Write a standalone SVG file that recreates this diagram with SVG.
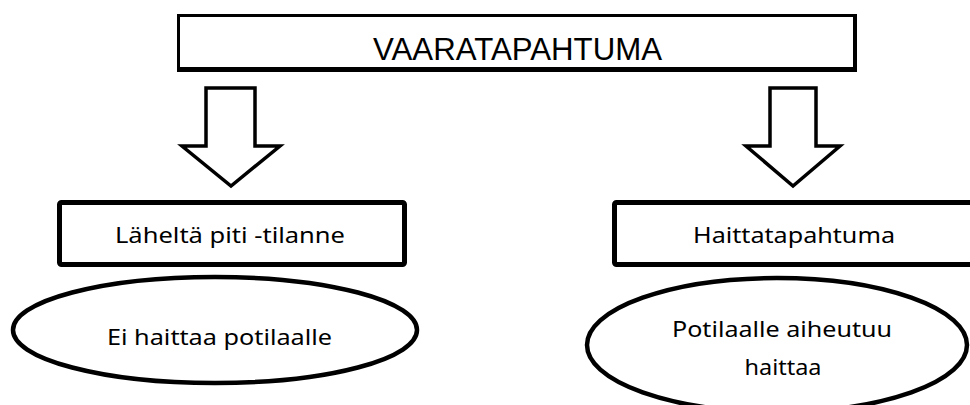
<svg xmlns="http://www.w3.org/2000/svg" width="970" height="405" viewBox="0 0 970 405">
<style>
.box{fill:#fff;stroke:#000;stroke-width:5}
.outer{fill:#000}
.inner{fill:#fff}
.arrow{fill:#fff;stroke:#000;stroke-width:3.5;stroke-linejoin:miter}
.ell{fill:#fff;stroke:#000;stroke-width:4.5}
.t1{font-family:"Liberation Sans",Arial,sans-serif;font-size:32px;fill:#000;text-anchor:middle}
.t2{font-family:"Noto Sans","Open Sans",sans-serif;font-size:22px;fill:#000;text-anchor:middle}
</style>
<rect width="970" height="405" fill="#fff"/>
<g id="vaaratapahtuma">
<rect class="outer" x="177" y="14" width="680" height="58"/>
<rect class="inner" x="180" y="17" width="673" height="50"/>
<text class="t1" x="517.5" y="60" textLength="289" lengthAdjust="spacingAndGlyphs">VAARATAPAHTUMA</text>
</g>
<g id="connectors">
<polygon class="arrow" points="206,88 255,88 255,146 280,146 231,186 182,146 206,146"/>
<polygon class="arrow" points="770,88 816,88 816,146 840,146 793,186 746,146 770,146"/>
</g>
<g id="laheltapiti">
<rect class="box" x="59.5" y="202.5" width="345" height="62" rx="2"/>
<text class="t2" x="230" y="243" textLength="230" lengthAdjust="spacingAndGlyphs">Läheltä piti -tilanne</text>
</g>
<g id="haittatapahtuma">
<rect class="box" x="614.5" y="202.5" width="365" height="62" rx="2"/>
<text class="t2" x="794" y="243" textLength="202" lengthAdjust="spacingAndGlyphs">Haittatapahtuma</text>
</g>
<g id="eihaittaa">
<ellipse class="ell" cx="215" cy="330" rx="202" ry="53"/>
<text class="t2" x="219.5" y="345" textLength="225" lengthAdjust="spacingAndGlyphs">Ei haittaa potilaalle</text>
</g>
<g id="potilaalle">
<ellipse class="ell" cx="777" cy="345" rx="190" ry="67"/>
<text class="t2" x="782" y="337" textLength="220" lengthAdjust="spacingAndGlyphs">Potilaalle aiheutuu</text>
<text class="t2" x="783" y="375" textLength="77" lengthAdjust="spacingAndGlyphs">haittaa</text>
</g>
</svg>
